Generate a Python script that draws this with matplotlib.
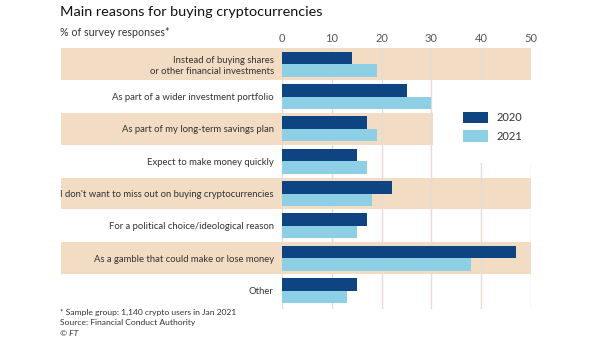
import matplotlib
matplotlib.use("Agg")
import matplotlib.pyplot as plt
from matplotlib.patches import Rectangle
import numpy as np

plt.rcParams['font.family'] = ['Lato', 'DejaVu Sans']

categories = [
    "Instead of buying shares\nor other financial investments",
    "As part of a wider investment portfolio",
    "As part of my long-term savings plan",
    "Expect to make money quickly",
    "I don't want to miss out on buying cryptocurrencies",
    "For a political choice/ideological reason",
    "As a gamble that could make or lose money",
    "Other",
]
values_2020 = [14, 25, 17, 15, 22, 17, 47, 15]
values_2021 = [19, 30, 19, 17, 18, 15, 38, 13]
series_labels = ["2020", "2021"]
xticks = [0, 10, 20, 30, 40, 50]

c2020 = "#0f4482"
c2021 = "#8dcfe5"
band = "#f2dcc4"
grid = "#e6dcd4"
txt = "#333333"

W, H = 605, 341
fig = plt.figure(figsize=(W / 100, H / 100), dpi=100)
ax_left, ax_right = 282 / W, 531 / W
ax_top, ax_bot = 1 - 48 / H, 1 - 309 / H
ax = fig.add_axes([ax_left, ax_bot, ax_right - ax_left, ax_top - ax_bot])

n = len(categories)
y = np.arange(n)
h = 0.39
ax.barh(y - h / 2, values_2020, height=h, color=c2020, zorder=4, label=series_labels[0])
ax.barh(y + h / 2, values_2021, height=h, color=c2021, zorder=4, label=series_labels[1])

ax.set_xlim(0, 50)
ax.set_ylim(7.57, -0.5)

# background bands on alternating rows
band_left = (61 - 282) / (531 - 282)
for i in range(0, n, 2):
    right = 0.606 if i == 2 else 1.0
    ax.add_patch(Rectangle((band_left, i - 0.49), right - band_left, 0.98,
                           transform=ax.get_yaxis_transform(), color=band,
                           zorder=0, clip_on=False, lw=0))

# gridlines
for t in xticks:
    ax.axvline(t, color=grid, lw=1.0, zorder=1)

# white area for legend
ax.add_patch(Rectangle((30.3, 0.5), 21, 2.55, color="white", zorder=2, lw=0, clip_on=False))

for s in ax.spines.values():
    s.set_visible(False)
ax.xaxis.tick_top()
ax.set_xticks(xticks)
ax.set_xticklabels([str(t) for t in xticks], fontsize=8, color="#555555")
ax.tick_params(axis="x", length=0, pad=3)
ax.set_yticks(y)
ax.set_yticklabels(categories, fontsize=6.8, color=txt, linespacing=1.3)
ax.tick_params(axis="y", length=0, pad=6)
for lab in ax.get_yticklabels():
    lab.set_horizontalalignment("right")
    lab.set_multialignment("right")

leg = ax.legend(loc="upper left", bbox_to_anchor=(0.685, 0.795), frameon=False,
                fontsize=8, handlelength=2.3, handleheight=1.25,
                labelspacing=0.6, handletextpad=0.75, labelcolor=txt)
leg.set_zorder(5)

fig.text(60 / W, 1 - 12 / H, "Main reasons for buying cryptocurrencies",
         fontsize=10.4, color="#111111", va="center", ha="left")
fig.text(60 / W, 1 - 32 / H, "% of survey responses*",
         fontsize=7.7, color=txt, va="center", ha="left")
fig.text(60 / W, 1 - 312 / H, "* Sample group: 1,140 crypto users in Jan 2021",
         fontsize=6.1, color=txt, va="center", ha="left")
fig.text(60 / W, 1 - 322.5 / H, "Source: Financial Conduct Authority",
         fontsize=6.1, color=txt, va="center", ha="left")
fig.text(60 / W, 1 - 333 / H, "© FT", fontsize=6.1, color=txt, va="center",
         ha="left", style="italic")

fig.savefig("out.png", dpi=100, facecolor="white")
